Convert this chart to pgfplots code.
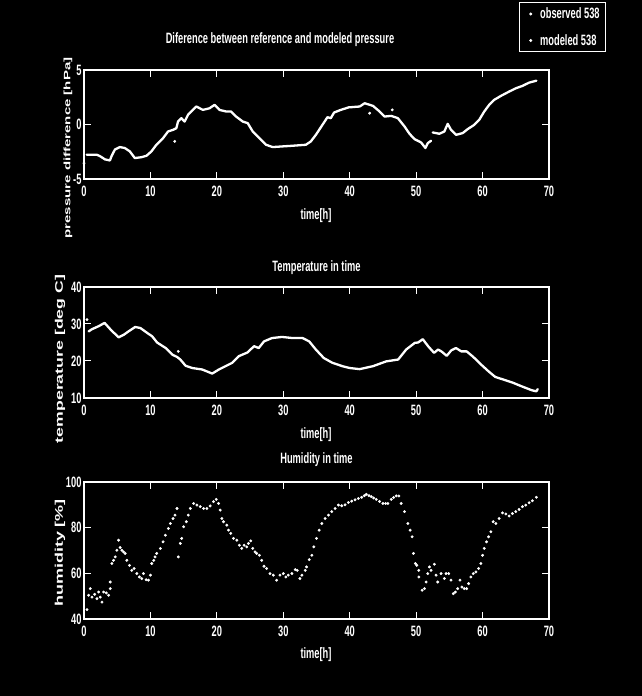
\documentclass[border=0pt]{standalone}
\usepackage{pgfplots}
\pgfplotsset{compat=1.18}
\usepackage{fontspec}
\setmainfont{Liberation Sans}
\newfontfamily\nf[FakeStretch=0.62]{Liberation Sans}
\newcommand\tickfont{\nf\bfseries\fontsize{15}{15}\selectfont}
\newcommand\titlefont{\nf\bfseries\fontsize{15}{15}\selectfont}

\pgfplotsset{
  mat/.style={
    scale only axis, width=465pt,
    xmin=0, xmax=70, xtick={0,10,...,70},
    axis background/.style={fill=black},
    axis line style={white, line width=1.6pt},
    tick style={white, line width=1pt},
    tick align=inside,
    xtick pos=both, ytick pos=both,
    major tick length=7pt,
    ticklabel style={font=\tickfont, text=white},
    /pgf/number format/assume math mode=true,
    xticklabel style={yshift=-3pt},
    yticklabel style={xshift=1pt},
  },
  dat/.style={white, line width=2.3pt, line join=round, line cap=round},
  dots/.style={white, only marks, mark=*, mark size=1.25pt},
}

\begin{document}
\begin{tikzpicture}[x=1pt,y=1pt]
\fill[black] (-5,-5) rectangle (646,701);

% ---------- pressure ----------
\begin{axis}[mat, at={(84pt,517pt)}, anchor=south west, height=109pt,
  ymin=-5, ymax=5, ytick={-5,0,5},
  legend style={at={(1.1226,1.165)}, anchor=south east, draw=white, fill=black,
    text=white, font=\tickfont, legend cell align=left, row sep=10pt,
    inner xsep=4pt, inner ysep=3pt, line width=0.8pt},
]
\addplot[dat, forget plot] coordinates {
(0.4,-2.77)(1.2,-2.77)(1.9,-2.77)(2.4,-2.9)(3.15,-3.2)(3.9,-3.3)(4.15,-2.9)(4.65,-2.3)
(5.4,-2.07)(6.15,-2.16)(6.9,-2.47)(7.65,-3.08)(8.65,-3.0)(9.4,-2.87)(10.15,-2.47)
(10.9,-1.86)(11.9,-1.25)(12.65,-0.64)(13.4,-0.49)(13.9,-0.34)(14.15,0.27)(14.65,0.58)
(15.15,0.27)(15.65,0.88)(16.4,1.34)(16.9,1.65)(17.9,1.34)(18.9,1.49)(19.65,1.8)
(20.4,1.34)(21.4,1.19)(22.15,1.19)(22.9,0.73)(23.9,0.27)(24.65,0.12)(25.4,-0.64)
(26.4,-1.25)(27.4,-1.86)(28.4,-2.07)(29.9,-2.01)(31.4,-1.95)(33.4,-1.86)(34.15,-1.55)
(34.9,-0.95)(35.9,-0.03)(36.65,0.67)(37.15,0.58)(37.65,1.1)(38.65,1.34)(39.9,1.58)
(40.25,1.59)(41.5,1.65)(42.25,1.95)(43.5,1.71)(44.5,1.19)(45.25,0.73)(46.25,0.79)
(47.25,0.58)(48.25,-0.18)(49,-0.85)(49.75,-1.34)(50.75,-1.65)(51.4,-2.16)(51.75,-1.71)
(52.25,-1.49)
};
\addplot[dat, forget plot] coordinates {
(52.5,-0.73)(53.5,-0.85)(54.25,-0.64)(54.75,0.06)(55.25,-0.49)(56,-0.95)(57,-0.79)
(57.75,-0.43)(58.75,-0.03)(59.5,0.43)(60.25,1.19)(61,1.8)(61.75,2.26)(62.75,2.62)
(64,3.02)(65,3.32)(66,3.54)(67,3.84)(68.1,4.02)
};
\addplot[dots, forget plot] coordinates {(0,-3.54)(13.65,-1.55)(43,1.04)(46.4,1.34)};
\addlegendimage{legend image code/.code={\path (0,0) rectangle (14pt,0); \fill[white] (7pt,0) circle (1.1pt);}}
\addlegendentry{observed 538}
\addlegendimage{legend image code/.code={\path (0,0) rectangle (14pt,0); \fill[white] (7pt,0) circle (1.1pt);}}
\addlegendentry{modeled 538}
\end{axis}

% ---------- temperature ----------
\begin{axis}[mat, at={(84pt,298pt)}, anchor=south west, height=111pt,
  ymin=10, ymax=40, ytick={10,20,30,40}]
\addplot[dat] coordinates {
(0.7,28.0)(1.2,28.6)(2.2,29.4)(3.1,30.3)(4.0,28.5)(5.2,26.4)(6.0,27.1)(6.7,28.0)
(7.7,29.2)(8.5,28.9)(9.5,27.6)(10.25,26.7)(11.0,25.0)(12.3,23.5)(13.3,21.7)(14.0,21.1)
(14.5,20.4)(15.3,18.7)(16.3,18.1)(17.8,17.7)(19.3,16.6)(20.3,17.7)(21.3,18.6)(22.3,19.5)
(23.3,21.3)(24.6,22.3)(25.6,24.0)(26.3,23.5)(27.1,25.3)(28.3,26.2)(29.8,26.5)(31.4,26.2)
(32.9,26.2)(33.9,25.3)(34.9,23.1)(36.1,20.8)(37.4,19.5)(38.9,18.6)(40.0,18.1)(41.5,17.8)
(43.5,18.6)(45.5,19.9)(47.3,20.4)(48.5,23.1)(49.8,24.9)(50.3,25.0)(51,25.9)(51.8,24.0)
(52.7,22.2)(53.3,23.1)(53.8,22.6)(54.6,21.4)(55.3,22.9)(56,23.5)(56.8,22.6)(57.6,22.6)
(58.6,21.1)(59.8,19.0)(60.9,17.2)(61.9,15.7)(63.1,15.0)(64.6,14.1)(66.1,13.0)(67.4,12.1)
(68.1,11.8)(68.3,12.4)
};
\addplot[dots] coordinates {(0.45,31.2)(14.2,22.6)};
\end{axis}

% ---------- humidity ----------
\begin{axis}[mat, at={(84pt,77pt)}, anchor=south west, height=137pt,
  ymin=40, ymax=100, ytick={40,60,80,100}]
\addplot[dots] coordinates {
(0.45,44.1)(0.7,50.4)(0.95,53.3)(1.2,49.6)(1.6,50.8)(1.95,48.9)(2.2,51.8)(2.45,49.6)
(2.7,47.4)(2.95,51.8)(3.35,51.4)(3.7,50.4)(3.95,53.3)(3.95,56.2)(4.2,64.3)(4.45,65.7)
(4.7,67.2)(4.95,70.1)(5.2,74.5)(5.45,71.3)(5.7,70.1)(5.95,69.4)(6.2,68.7)(6.45,65.7)
(6.85,63.5)(7.2,61.3)(7.55,62.1)(7.95,59.9)(8.35,58.4)(8.7,57.7)(8.95,59.9)(9.35,57.2)
(9.7,57.0)(10.0,59.2)(10.2,64.3)(10.5,65.7)(10.7,67.2)(10.95,68.7)(11.5,70.9)(11.9,73.8)
(12.25,76.7)(12.7,79.6)(13.0,81.8)(13.4,84.0)(13.7,85.5)(14.0,88.4)(14.2,67.2)(14.5,73.1)
(14.7,75.3)(15.0,80.4)(15.4,82.6)(15.7,85.5)(16.0,88.4)(16.5,90.6)(17.0,89.9)(17.5,89.2)
(18.0,88.4)(18.5,88.4)(19.0,89.5)(19.5,91.4)(19.9,92.4)(20.25,90.6)(20.5,87.7)(20.75,84.0)
(21.0,82.6)(21.5,81.1)(21.75,78.9)(22.1,77.5)(22.5,75.3)(23.0,74.5)(23.4,72.3)(23.75,70.9)
(24.1,72.3)(24.5,71.6)(24.75,73.1)(25.1,74.2)(25.4,70.9)(25.75,69.4)(26.0,68.7)(26.4,67.9)
(26.75,65.7)(27.1,63.1)(27.5,62.1)(28.0,59.9)(28.5,59.2)(29.0,57.0)(29.5,59.2)(30.0,59.9)
(30.4,58.4)(30.75,59.2)(31.3,59.9)(31.8,61.6)(32.1,61.3)(32.5,57.7)(32.8,59.2)(33.3,61.3)
(33.5,62.8)(33.9,66.0)(34.3,67.9)(34.6,71.6)(35.0,75.3)(35.4,78.9)(35.8,81.8)(36.3,84.0)
(36.8,85.5)(37.3,87.0)(37.8,88.4)(38.3,89.9)(38.8,89.6)(39.3,90.0)(39.8,91.0)(40.3,91.6)
(40.8,92.2)(41.3,92.8)(41.8,93.3)(42.2,94.0)(42.5,94.6)(42.9,94.0)(43.25,93.6)(43.6,93.0)
(44.0,92.4)(44.5,91.5)(45.0,90.6)(45.4,90.6)(45.75,90.6)(46.25,92.4)(46.6,93.2)(47.0,93.9)
(47.4,93.9)(47.75,90.6)(48.25,87.0)(48.75,81.8)(49.1,78.9)(49.4,76.0)(49.6,68.7)(49.9,64.3)
(50.1,63.5)(50.4,61.3)(50.4,58.4)(50.9,52.6)(51.25,53.3)(51.5,56.2)(51.75,59.9)(52,62.8)
(52.25,61.3)(52.75,64.0)(53,59.2)(53.25,56.2)(53.75,59.9)(54.25,57.7)(54.5,59.9)(54.9,59.9)
(55.25,57.0)(55.6,51.1)(55.9,51.8)(56.25,53.3)(56.6,57.0)(56.9,54.0)(57.25,53.3)(57.6,53.3)
(57.9,55.5)(58.25,58.4)(58.6,59.9)(59.0,60.6)(59.4,62.1)(59.75,64.3)(60.0,67.9)(60.25,70.9)
(60.6,73.8)(60.9,76.0)(61.25,78.2)(61.6,82.6)(62.0,81.8)(62.5,84.0)(63.0,86.5)(63.5,86.0)
(64.0,85.1)(64.5,86.2)(65.0,87.0)(65.5,88.0)(66.0,89.2)(66.5,89.9)(67.0,90.9)(67.5,91.8)
(68.1,93.3)
};
\end{axis}

% ---------- titles and labels ----------
\node[text=white, font=\titlefont] at (280,656) {Diference between reference and modeled pressure};
\node[text=white, font=\titlefont] at (316.5,428) {Temperature in time};
\node[text=white, font=\titlefont] at (316.5,236) {Humidity in time};
\node[text=white, font=\tickfont] at (316,480) {time[h]};
\node[text=white, font=\tickfont] at (316,261) {time[h]};
\node[text=white, font=\tickfont] at (316,41) {time[h]};
\node[text=white, rotate=90, inner sep=0pt] at (68,548)
  {\scalebox{1}[0.62]{\bfseries\fontsize{15}{15}\selectfont pressure difference [hPa]}};
\node[text=white, rotate=90, inner sep=0pt] at (60,337)
  {\scalebox{1}[0.62]{\bfseries\fontsize{17.7}{18}\selectfont temperature [deg C]}};
\node[text=white, rotate=90, inner sep=0pt] at (60,143)
  {\scalebox{1}[0.62]{\bfseries\fontsize{18}{18}\selectfont humidity [\%]}};

\pgfresetboundingbox
\path (0,0) rectangle (641,696);
\end{tikzpicture}
\end{document}
